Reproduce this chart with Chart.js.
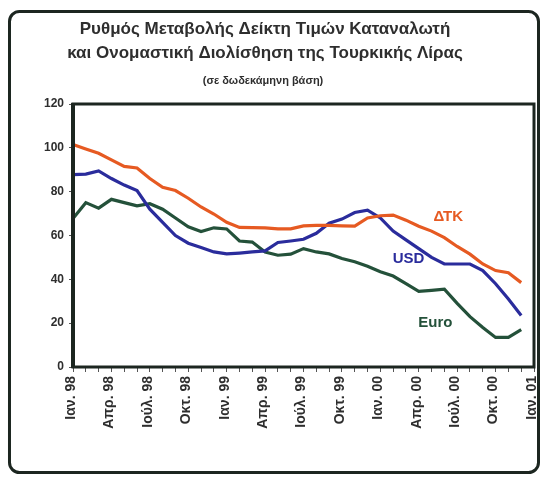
<!DOCTYPE html>
<html>
<head>
<meta charset="utf-8">
<script src="https://cdn.jsdelivr.net/npm/chart.js@4"></script>
<style>
  html, body { margin: 0; padding: 0; background: #fff; }
  #wrap { width: 544px; height: 477px; position: relative; }
</style>
</head>
<body>
<div id="wrap"><canvas id="cpiChart" width="544" height="477"></canvas></div>
<script>
const months = [
    'Ιαν. 98', 'Φεβ. 98', 'Μαρ. 98', 'Απρ. 98', 'Μάιος 98', 'Ιούν. 98', 'Ιούλ. 98', 'Αύγ. 98', 'Σεπ. 98', 'Οκτ. 98', 'Νοέ. 98', 'Δεκ. 98',
    'Ιαν. 99', 'Φεβ. 99', 'Μαρ. 99', 'Απρ. 99', 'Μάιος 99', 'Ιούν. 99', 'Ιούλ. 99', 'Αύγ. 99', 'Σεπ. 99', 'Οκτ. 99', 'Νοέ. 99', 'Δεκ. 99',
    'Ιαν. 00', 'Φεβ. 00', 'Μαρ. 00', 'Απρ. 00', 'Μάιος 00', 'Ιούν. 00', 'Ιούλ. 00', 'Αύγ. 00', 'Σεπ. 00', 'Οκτ. 00', 'Νοέ. 00', 'Δεκ. 00',
    'Ιαν. 01'
];

const cpi = [101.5, 99.5, 97.5, 94.5, 91.5, 90.8, 86, 82, 80.5, 77, 73, 69.8,
    66, 63.7, 63.6, 63.5, 63, 63, 64.4, 64.6, 64.6, 64.4, 64.3, 68,
    69, 69.3, 67, 64.2, 62, 59, 55, 51.5, 47, 44, 43, 38.5];

const usd = [87.8, 88, 89.5, 86, 83, 80.5, 72, 66, 60, 56.5, 54.5, 52.5,
    51.6, 52, 52.5, 53, 56.8, 57.5, 58.3, 61, 65.6, 67.5, 70.5, 71.6,
    68, 62, 58, 54, 50, 47, 47, 47, 44, 38, 31, 23.5];

const euro = [67.8, 75, 72.5, 76.5, 75, 73.5, 74.5, 72, 68, 64, 61.8, 63.5,
    63, 57.5, 57, 52.5, 51, 51.5, 54, 52.5, 51.6, 49.5, 48, 46,
    43.5, 41.5, 38, 34.5, 35, 35.5, 29, 23, 18, 13.5, 13.5, 17];

const seriesNames = ['ΔΤΚ', 'USD', 'Euro'];
const seriesColors = ['#e65a22', '#2a2c9c', '#24513a'];
// where each series name sits: [category index, value]
const nameSpots = [[29.3, 68.4], [26.2, 49.3], [28.3, 20]];

const titleLines = [
    'Ρυθμός Μεταβολής Δείκτη Τιμών Καταναλωτή',
    'και Ονομαστική Διολίσθηση της Τουρκικής Λίρας',
    '(σε δωδεκάμηνη βάση)'
];

const textColor = '#2e2e2e';
const frameColor = '#1c2620';
const fontFamily = '"Liberation Sans", Arial, sans-serif';

const decorPlugin = {
    id: 'decor',
    beforeDraw(chart) {
        const ctx = chart.ctx;
        ctx.save();
        ctx.strokeStyle = frameColor;
        ctx.lineWidth = 3;
        ctx.beginPath();
        ctx.roundRect(9.5, 11.5, 529, 461, 10);
        ctx.stroke();

        ctx.fillStyle = textColor;
        ctx.textAlign = 'center';
        ctx.textBaseline = 'middle';
        ctx.font = 'bold 17px ' + fontFamily;
        ctx.fillText(titleLines[0], 265, 29);
        ctx.fillText(titleLines[1], 265, 53);
        ctx.font = 'bold 11px ' + fontFamily;
        ctx.fillText(titleLines[2], 263, 81);
        ctx.restore();
    },
    afterDatasetsDraw(chart) {
        const ctx = chart.ctx;
        const a = chart.chartArea;
        ctx.save();
        ctx.strokeStyle = frameColor;
        ctx.lineWidth = 3;
        ctx.strokeRect(a.left, a.top, a.right - a.left, a.bottom - a.top);
        ctx.lineWidth = 4;
        ctx.beginPath();
        ctx.moveTo(a.left, a.top - 1);
        ctx.lineTo(a.left, a.bottom + 1);
        ctx.stroke();

        ctx.font = 'bold 15px ' + fontFamily;
        ctx.textAlign = 'center';
        ctx.textBaseline = 'middle';
        const xs = chart.scales.x, ys = chart.scales.y;
        nameSpots.forEach((p, i) => {
            ctx.fillStyle = seriesColors[i];
            ctx.fillText(seriesNames[i], xs.getPixelForValue(p[0]), ys.getPixelForValue(p[1]));
        });
        ctx.restore();
    }
};

const makeSet = (i, data) => ({
    label: seriesNames[i],
    data: data,
    borderColor: seriesColors[i],
    borderWidth: 3.2,
    tension: 0,
    fill: false,
    pointRadius: 0,
});

const chartElem = document.getElementById('cpiChart').getContext('2d');

const chartConfig = {
    type: 'line',
    data: {
        labels: months,
        datasets: [makeSet(0, cpi), makeSet(1, usd), makeSet(2, euro)],
    },
    options: {
        responsive: false,
        animation: false,
        layout: {
            padding: { top: 104, right: 10, left: 0, bottom: 0 },
        },
        scales: {
            x: {
                offset: false,
                afterFit(scale) {
                    scale.height = 110;
                    scale.paddingLeft = 0;
                    scale.paddingRight = 0;
                },
                grid: {
                    display: true,
                    drawOnChartArea: false,
                    drawTicks: true,
                    tickLength: 5,
                    color: '#555',
                },
                border: { display: false },
                ticks: {
                    autoSkip: false,
                    maxRotation: 90,
                    minRotation: 90,
                    padding: 4,
                    labelOffset: -2,
                    color: textColor,
                    font: { family: fontFamily, size: 14, weight: 'bold' },
                    callback(val, idx) {
                        return idx % 3 === 0 ? months[idx] : '';
                    },
                },
            },
            y: {
                min: 0,
                max: 120,
                afterFit(scale) { scale.width = 73; },
                grid: {
                    display: true,
                    drawOnChartArea: false,
                    tickLength: 4,
                    color: '#555',
                },
                border: { display: false },
                ticks: {
                    stepSize: 20,
                    padding: 5,
                    color: textColor,
                    font: { family: fontFamily, size: 12, weight: 'bold' },
                },
            },
        },
        plugins: {
            legend: { display: false },
            tooltip: { enabled: false },
        },
    },
    plugins: [decorPlugin],
};

const cpiChart = new Chart(chartElem, chartConfig);
</script>
</body>
</html>
